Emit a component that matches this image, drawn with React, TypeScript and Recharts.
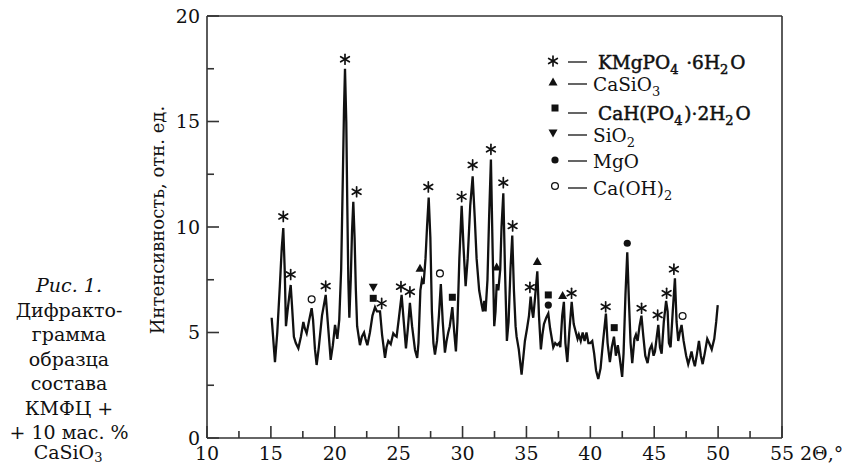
import React from "react";
import { ComposedChart, Line, Scatter, XAxis, YAxis, ReferenceLine } from "recharts";

// 2Θ angles and intensities
const angles = [
  15.06, 15.32, 15.5, 15.7, 15.85, 15.97, 16.08, 16.18, 16.3, 16.45, 16.55, 16.65, 16.8, 16.95, 17.15, 17.35,
  17.54, 17.65, 17.8, 18.0, 18.19, 18.3, 18.45, 18.58, 18.75, 19.0, 19.29, 19.45, 19.68, 19.85, 20.02, 20.12,
  20.2, 20.35, 20.5, 20.62, 20.72, 20.8, 20.9, 20.98, 21.06, 21.14, 21.25, 21.35, 21.45, 21.55, 21.65, 21.75,
  21.97, 22.12, 22.29, 22.4, 22.55, 22.75, 22.95, 23.15, 23.3, 23.41, 23.54, 23.7, 23.93, 24.05, 24.19, 24.38,
  24.58, 24.72, 24.84, 25.0, 25.23, 25.4, 25.57, 25.72, 25.88, 26.05, 26.28, 26.45, 26.55, 26.7, 26.82, 26.95,
  27.1, 27.22, 27.35, 27.48, 27.6, 27.72, 27.84, 28.0, 28.15, 28.3, 28.45, 28.62, 28.75, 28.88, 29.0, 29.2,
  29.35, 29.48, 29.6, 29.75, 29.93, 30.08, 30.24, 30.4, 30.6, 30.79, 30.95, 31.1, 31.3, 31.5, 31.6, 31.7,
  31.8, 31.95, 32.08, 32.22, 32.35, 32.48, 32.58, 32.67, 32.8, 32.95, 33.05, 33.19, 33.32, 33.47, 33.6, 33.75,
  33.89, 34.02, 34.15, 34.23, 34.4, 34.62, 34.75, 34.88, 35.05, 35.2, 35.33, 35.45, 35.53, 35.65, 35.85, 35.98,
  36.13, 36.25, 36.37, 36.55, 36.71, 36.85, 37.1, 37.25, 37.4, 37.55, 37.65, 37.8, 37.93, 38.05, 38.2, 38.35,
  38.54, 38.7, 38.87, 39.0, 39.1, 39.25, 39.4, 39.55, 39.7, 39.85, 40.0, 40.15, 40.3, 40.45, 40.62, 40.8,
  41.0, 41.22, 41.35, 41.53, 41.68, 41.85, 42.0, 42.15, 42.3, 42.49, 42.6, 42.75, 42.89, 43.02, 43.15, 43.28,
  43.45, 43.57, 43.7, 43.85, 44.0, 44.15, 44.3, 44.48, 44.65, 44.8, 44.95, 45.06, 45.2, 45.32, 45.45, 45.58,
  45.75, 45.93, 46.05, 46.15, 46.28, 46.45, 46.62, 46.75, 46.88, 47.0, 47.14, 47.3, 47.5, 47.66, 47.8, 47.92,
  48.05, 48.18, 48.35, 48.5, 48.65, 48.79, 48.95, 49.15, 49.3, 49.5, 49.7, 49.85, 49.97,
];
const intensity = [
  5.7, 3.6, 5.0, 7.2, 9.0, 9.95, 8.0, 5.3, 6.0, 6.8, 7.25, 6.3, 4.8, 4.5, 4.25, 4.8,
  5.5, 5.2, 4.96, 5.6, 6.15, 5.6, 4.2, 3.46, 4.3, 5.8, 6.78, 5.5, 3.7, 4.4, 5.36, 5.0,
  4.7, 5.6, 8.0, 12.0, 15.5, 17.5, 15.0, 11.0, 7.5, 5.7, 7.5, 9.8, 11.2, 9.5, 7.0, 5.3,
  4.4, 4.8, 5.0, 4.7, 4.4, 5.0, 5.8, 6.2, 6.0, 6.0, 6.0, 4.9, 3.8, 4.3, 4.6, 4.45,
  4.96, 4.85, 4.8, 5.6, 6.78, 5.5, 4.25, 5.2, 6.4, 5.3, 4.17, 3.8, 4.5, 7.0, 7.5, 7.3,
  8.5, 10.0, 11.4, 9.5, 6.0, 4.5, 3.95, 4.6, 5.8, 7.3, 5.5, 4.05, 4.6, 5.0, 5.3, 6.2,
  5.0, 4.1, 5.5, 8.5, 11.0, 9.0, 7.2, 8.5, 11.0, 12.4, 10.5, 8.5, 7.0, 6.3, 6.0, 6.5,
  6.0, 7.5, 10.5, 13.2, 9.0, 5.3, 6.0, 7.3, 7.0, 8.0, 10.0, 11.6, 8.0, 4.6, 5.5, 8.0,
  9.6, 7.0, 5.3, 4.8, 4.2, 3.0, 3.8, 4.6, 5.2, 5.8, 6.7, 6.0, 5.7, 6.5, 7.9, 5.8,
  4.2, 4.9, 5.4, 5.7, 5.9, 5.2, 4.3, 4.5, 4.4, 4.5, 4.3, 5.8, 6.45, 4.5, 3.6, 5.0,
  6.45, 5.4, 5.0, 4.7, 4.9, 4.6, 5.0, 4.6, 5.0, 4.5, 4.5, 4.6, 4.0, 3.2, 2.8, 3.3,
  4.6, 5.9, 4.5, 3.6, 4.3, 4.8, 3.9, 4.4, 3.8, 2.9, 4.0, 6.8, 8.8, 6.5, 4.5, 3.55,
  4.7, 4.9, 4.6, 5.3, 5.8, 4.8, 3.9, 3.55, 4.2, 4.4, 3.9, 4.1, 4.8, 5.36, 4.3, 4.0,
  5.5, 6.5, 6.0, 4.5, 4.3, 6.0, 7.57, 5.5, 4.6, 5.0, 5.36, 4.6, 3.9, 3.5, 3.8, 4.1,
  3.7, 3.4, 4.0, 4.6, 3.9, 3.5, 4.0, 4.7, 4.5, 4.2, 4.7, 5.5, 6.3,
];

// phase markers: [2Θ, height of the symbol]
const kmgMarks = [
  [15.97, 10.5], [16.55, 7.75], [19.29, 7.2], [20.8, 17.95], [21.71, 11.67], [23.67, 6.38], [25.18, 7.17],
  [25.88, 6.93], [27.32, 11.9], [29.93, 11.44], [30.79, 12.94], [32.22, 13.68], [33.19, 12.1], [33.92, 10.05],
  [35.27, 7.14], [38.53, 6.86], [41.2, 6.22], [44.01, 6.15], [45.27, 5.83], [45.97, 6.86], [46.54, 8.0],
];
const casio3Marks = [[26.67, 8.05], [32.67, 8.1], [35.85, 8.36], [37.83, 6.75]];
const cahpoMarks = [[23.01, 6.62], [29.2, 6.67], [36.71, 6.78], [41.87, 5.23]];
const sio2Marks = [[23.01, 7.14]];
const mgoMarks = [[36.71, 6.3], [42.89, 9.23]];
const caohMarks = [[18.19, 6.57], [28.23, 7.8], [47.22, 5.78]];

const xTicks = [10, 12.5, 15, 17.5, 20, 22.5, 25, 27.5, 30, 32.5, 35, 37.5, 40, 42.5, 45, 47.5, 50, 52.5, 55];
const yTicks = [0, 2.5, 5, 7.5, 10, 12.5, 15, 17.5, 20];

const curve = angles.map((a, i) => ({ x: a, y: intensity[i] }));
const toPts = (arr: number[][]) => arr.map(([x, y]) => ({ x, y }));

const FONT = "'DejaVu Serif', serif";
const AXIS = "#333";
const INK = "#111";

const XTick = (props: any) => {
  const { x, y, payload } = props;
  const major = payload.value % 5 === 0;
  return (
    <g>
      <line x1={x} x2={x} y1={y} y2={y - (major ? 12 : 7)} stroke={AXIS} strokeWidth={1.6} />
      {major && (
        <text x={x} y={y + 22} textAnchor="middle" fontFamily={FONT} fontSize={19} fill={INK}>
          {payload.value}
        </text>
      )}
    </g>
  );
};

const YTick = (props: any) => {
  const { x, y, payload } = props;
  const major = payload.value % 5 === 0;
  return (
    <g>
      <line x1={x} x2={x + (major ? 12 : 7)} y1={y} y2={y} stroke={AXIS} strokeWidth={1.6} />
      {major && (
        <text x={x - 7} y={y} dy="0.36em" textAnchor="end" fontFamily={FONT} fontSize={19} fill={INK}>
          {payload.value}
        </text>
      )}
    </g>
  );
};

const Asterisk = ({ cx, cy }: any) => {
  const r = 5;
  const arms = [90, 30, -30, -90, 150, 210];
  return (
    <g stroke={INK} strokeWidth={1.7} strokeLinecap="round">
      {arms.map((a) => {
        const t = (a * Math.PI) / 180;
        return <line key={a} x1={cx} y1={cy} x2={cx + r * Math.cos(t)} y2={cy - r * Math.sin(t)} />;
      })}
    </g>
  );
};
const TriUp = ({ cx, cy }: any) => (
  <polygon points={`${cx - 4.5},${cy + 3.5} ${cx + 4.5},${cy + 3.5} ${cx},${cy - 4.5}`} fill={INK} />
);
const TriDown = ({ cx, cy }: any) => (
  <polygon points={`${cx - 4.5},${cy - 3.5} ${cx + 4.5},${cy - 3.5} ${cx},${cy + 4.5}`} fill={INK} />
);
const Square = ({ cx, cy }: any) => <rect x={cx - 3.5} y={cy - 3.5} width={7} height={7} fill={INK} />;
const Dot = ({ cx, cy }: any) => <circle cx={cx} cy={cy} r={3.6} fill={INK} />;
const Ring = ({ cx, cy }: any) => <circle cx={cx} cy={cy} r={3.4} fill="#fff" stroke={INK} strokeWidth={1.3} />;

const Sub = ({ children, d = 5 }: any) => (
  <>
    <tspan dy={d} fontSize={13}>{children}</tspan>
    <tspan dy={-d}>{"\u200a"}</tspan>
  </>
);

const legendRows = [
  { y: 69, sym: <Asterisk cx={553} cy={61} />, tx: 598, bold: true, text: <>KMgPO<Sub>4</Sub> ·6H<Sub>2</Sub>O</> },
  { y: 91, sym: <TriUp cx={553} cy={82} />, tx: 593, bold: false, text: <>CaSiO<Sub>3</Sub></> },
  { y: 120, sym: <Square cx={555} cy={108} />, tx: 598, bold: true, text: <>CaH(PO<Sub>4</Sub>)·2H<Sub>2</Sub>O</> },
  { y: 142, sym: <TriDown cx={553} cy={133} />, tx: 593, bold: false, text: <>SiO<Sub>2</Sub></> },
  { y: 168, sym: <Dot cx={555} cy={160} />, tx: 593, bold: false, text: <>MgO</> },
  { y: 195, sym: <Ring cx={555} cy={186} />, tx: 593, bold: false, text: <>Ca(OH)<Sub>2</Sub></> },
];

const captionLines = ["Дифракто-", "грамма", "образца", "состава", "КМФЦ +", "+ 10 мас. %"];

export default function App() {
  return (
    <div style={{ position: "absolute", left: 0, top: 0, width: 842, height: 466, background: "#fff" }}>
      <ComposedChart width={842} height={466} margin={{ top: 16, right: 60, bottom: 27, left: 206 }}>
        <XAxis
          dataKey="x"
          type="number"
          domain={[10, 55]}
          ticks={xTicks}
          interval={0}
          height={1}
          tickSize={0}
          tickMargin={0}
          tickLine={false}
          tick={<XTick />}
          axisLine={{ stroke: AXIS, strokeWidth: 1.6 }}
          allowDataOverflow
        />
        <YAxis
          type="number"
          domain={[0, 20]}
          ticks={yTicks}
          interval={0}
          width={1}
          tickSize={0}
          tickMargin={0}
          tickLine={false}
          tick={<YTick />}
          axisLine={{ stroke: AXIS, strokeWidth: 1.6 }}
          allowDataOverflow
        />
        <ReferenceLine y={20} stroke={AXIS} strokeWidth={1.6} ifOverflow="visible" />
        <ReferenceLine x={55} stroke={AXIS} strokeWidth={1.6} ifOverflow="visible" />
        <Line data={curve} dataKey="y" type="linear" stroke={INK} strokeWidth={2.3} dot={false} isAnimationActive={false} />
        <Scatter data={toPts(kmgMarks)} dataKey="y" shape={<Asterisk />} isAnimationActive={false} />
        <Scatter data={toPts(casio3Marks)} dataKey="y" shape={<TriUp />} isAnimationActive={false} />
        <Scatter data={toPts(cahpoMarks)} dataKey="y" shape={<Square />} isAnimationActive={false} />
        <Scatter data={toPts(sio2Marks)} dataKey="y" shape={<TriDown />} isAnimationActive={false} />
        <Scatter data={toPts(mgoMarks)} dataKey="y" shape={<Dot />} isAnimationActive={false} />
        <Scatter data={toPts(caohMarks)} dataKey="y" shape={<Ring />} isAnimationActive={false} />
      </ComposedChart>
      <svg width={842} height={466} style={{ position: "absolute", left: 0, top: 0, pointerEvents: "none" }}>
        <text
          x={157}
          y={220}
          transform="rotate(-90 157 220)"
          textAnchor="middle"
          dominantBaseline="central"
          fontFamily={FONT}
          fontSize={18}
          fill={INK}
        >
          Интенсивность, отн. ед.
        </text>
        <text x={800} y={460} fontFamily={FONT} fontSize={19} fill={INK}>2Θ,°</text>
        {legendRows.map((r, i) => (
          <g key={i}>
            {r.sym}
            <line x1={568} x2={587} y1={r.y - 7} y2={r.y - 7} stroke={INK} strokeWidth={1.3} />
            <text
              x={r.tx}
              y={r.y}
              fontFamily={FONT}
              fontSize={18.5}
              fill={INK}
              stroke={r.bold ? INK : "none"}
              strokeWidth={0.5}
            >
              {r.text}
            </text>
          </g>
        ))}
        <text x={69} y={292} textAnchor="middle" fontFamily={FONT} fontSize={19} fontStyle="italic" fill={INK}>
          Рис. 1.
        </text>
        {captionLines.map((l, i) => (
          <text key={l} x={69} y={316.5 + i * 24.5} textAnchor="middle" fontFamily={FONT} fontSize={19} fill={INK}>
            {l}
          </text>
        ))}
        <text x={69} y={459} textAnchor="middle" fontFamily={FONT} fontSize={19} fill={INK}>
          CaSiO<Sub d={3}>3</Sub>
        </text>
      </svg>
    </div>
  );
}
